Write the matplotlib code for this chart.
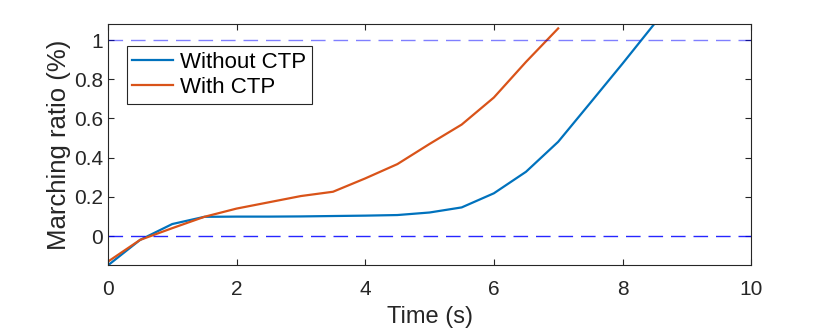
import matplotlib.pyplot as plt

t = [0, 0.5, 1, 1.5, 2, 2.5, 3, 3.5, 4, 4.5, 5, 5.5, 6, 6.5, 7, 7.5, 8, 8.5]
without_ctp = [-0.15, -0.02, 0.061, 0.098, 0.099, 0.099, 0.1, 0.102, 0.104, 0.107,
               0.12, 0.146, 0.218, 0.328, 0.481, 0.68, 0.88, 1.085]
t_ctp = [0, 0.5, 1, 1.5, 2, 2.5, 3, 3.5, 4, 4.5, 5, 5.5, 6, 6.5, 7]
with_ctp = [-0.131, -0.02, 0.04, 0.098, 0.14, 0.172, 0.204, 0.226, 0.294, 0.367,
            0.47, 0.569, 0.707, 0.889, 1.06]
ref_levels = [0, 1]

plt.rcParams['font.family'] = ['Liberation Sans', 'DejaVu Sans']
plt.rcParams['font.size'] = 15

fig = plt.figure(figsize=(8.3, 3.3), dpi=100)
ax = fig.add_axes([0.130, 0.197, 0.775, 0.730])

ax.plot(t, without_ctp, color='#0072BD', lw=1.6, label='Without CTP')
ax.plot(t_ctp, with_ctp, color='#D95319', lw=1.6, label='With CTP')
ax.axhline(ref_levels[0], color='#0000ff', ls=(0, (10.5, 5.7)), lw=1.0, alpha=0.85)
ax.axhline(ref_levels[1], color='#0000ff', ls=(0, (10.5, 5.7)), lw=1.0, alpha=0.5)

ax.set_xlim(0, 10)
ax.set_ylim(-0.148, 1.082)
ax.set_xticks(range(0, 11, 2))
ax.set_yticks([0, 0.2, 0.4, 0.6, 0.8, 1])
ax.set_yticklabels(['0', '0.2', '0.4', '0.6', '0.8', '1'])
ax.tick_params(direction='in', length=4, top=True, right=True, colors='#262626',
               labelcolor='#262626', labelsize=15)
ax.tick_params(axis='x', pad=10.5)
for s in ax.spines.values():
    s.set_color('#262626')
    s.set_linewidth(0.8)

ax.set_xlabel('Time (s)', color='#262626', labelpad=5, fontsize=17)
ax.set_ylabel('Marching ratio (%)', color='#262626', labelpad=2, fontsize=18.5)

leg = ax.legend(loc='upper left', bbox_to_anchor=(0.029, 0.909), fancybox=False,
                edgecolor='#262626', framealpha=1, handlelength=1.85, borderpad=0.25,
                labelspacing=0.2, handletextpad=0.3, borderaxespad=0, fontsize=16)
leg.get_frame().set_linewidth(0.8)

fig.savefig('out.png', dpi=100)
